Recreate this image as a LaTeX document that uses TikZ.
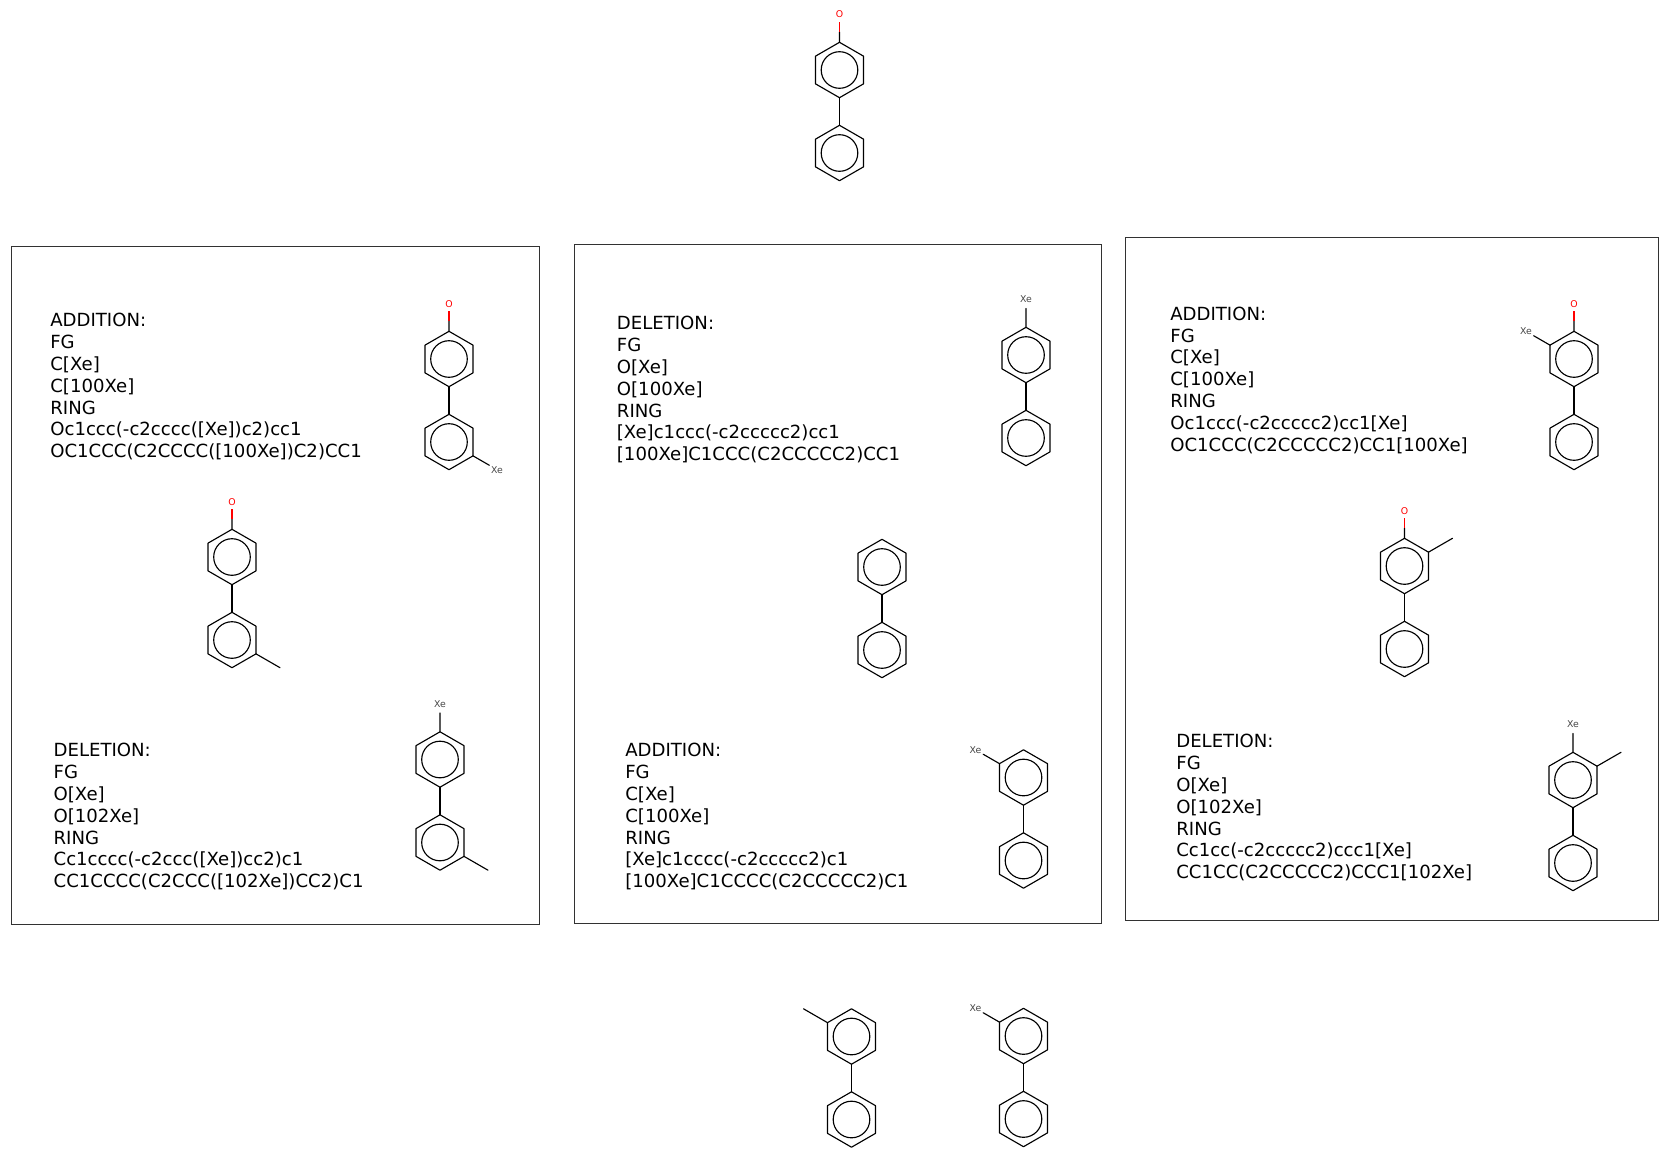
\documentclass[tikz,border=0pt]{standalone}
\usepackage{fontspec}
\setmainfont{DejaVu Sans}
\usepackage{xcolor}
\usetikzlibrary{calc}

\definecolor{oxred}{RGB}{255,0,0}
\definecolor{xegray}{RGB}{70,70,70}
\definecolor{framegray}{RGB}{50,50,50}

\tikzset{
    bond/.style={black, line width=0.68pt, line cap=round, line join=round},
    oxbond/.style={oxred, line width=0.68pt},
    panel/.style={framegray, line width=0.55pt},
    smiles/.style={anchor=west, align=left, inner sep=0pt, font=\fontsize{10.86}{13.08}\selectfont},
    olabel/.style={oxred, inner sep=0pt, font=\fontsize{5.6}{6}\selectfont},
    xelabel/.style={xegray, inner sep=0pt, font=\fontsize{5.6}{6}\selectfont},
}

% One benzene ring, centre at (0,0) of the scope
\newcommand{\benzene}{
    \draw[bond] (0,-27.7) -- (24,-13.85) -- (24,13.85) -- (0,27.7) -- (-24,13.85) -- (-24,-13.85) -- cycle;
    \draw[bond] (0,0) circle[radius=18.3];
}

% Two rings, one above the other: name, x, y of upper ring
\newcommand{\biphenyl}[3]{
    \begin{scope}[shift={(#2,#3)}]
        \benzene
        \begin{scope}[yshift=-49.8pt]
            \benzene
        \end{scope}
        \coordinate (#1top) at (0,-27.7);
        \coordinate (#1n) at (0,-55.4);
        \coordinate (#1vne) at (24,-13.85);
        \coordinate (#1ne) at (48,-27.7);
        \coordinate (#1vnw) at (-24,-13.85);
        \coordinate (#1nw) at (-48,-27.7);
        \coordinate (#1vse) at (24,96.85);
        \coordinate (#1se) at (48,110.7);
        \coordinate (#1a) at (0,27.7);
        \coordinate (#1b) at (0,55.3);
        \draw[bond] (#1a) -- (#1b);
    \end{scope}
}

% Substituents: node name, ring vertex, free end
\newcommand{\oxgroup}[3]{
    \node[olabel] (#1) at (#3) {O};
    \draw[bond] (#2) -- ($(#2)!0.37!(#3)$);
    \draw[oxbond] ($(#2)!0.37!(#3)$) -- ($(#2)!0.72!(#3)$);
}
\newcommand{\xegroup}[3]{
    \node[xelabel] (#1) at (#3) {Xe};
    \draw[bond] (#2) -- ($(#2)!0.68!(#3)$);
}

\begin{document}
\begin{tikzpicture}[x=0.6pt, y=-0.6pt]
    \useasboundingbox (0,0) rectangle (1670,1159);

    % Panels
    \draw[panel] (11.7,246) rectangle (539,924.5);
    \draw[panel] (574,244) rectangle (1101,923.5);
    \draw[panel] (1125.7,237.5) rectangle (1658,920);

    % Top molecule
    \biphenyl{top}{839.5}{70}
    \oxgroup{otop}{toptop}{topn}

    % Left panel
    \node[smiles] (addleft) at (50,386.8) {ADDITION:\\FG\\C[Xe]\\C[100Xe]\\RING\\Oc1ccc(-c2cccc([Xe])c2)cc1\\OC1CCC(C2CCCC([100Xe])C2)CC1};
    \biphenyl{la}{449}{359}
    \oxgroup{ola}{latop}{lan}
    \xegroup{xla}{lavse}{lase}

    \biphenyl{lm}{232}{557}
    \oxgroup{olm}{lmtop}{lmn}
    \draw[bond] (lmvse) -- (lmse);

    \node[smiles] (delleft) at (53.3,816.8) {DELETION:\\FG\\O[Xe]\\O[102Xe]\\RING\\Cc1cccc(-c2ccc([Xe])cc2)c1\\CC1CCCC(C2CCC([102Xe])CC2)C1};
    \biphenyl{ld}{440}{759.5}
    \xegroup{xld}{ldtop}{ldn}
    \draw[bond] (ldvse) -- (ldse);

    % Middle panel
    \node[smiles] (delmid) at (616.6,389.8) {DELETION:\\FG\\O[Xe]\\O[100Xe]\\RING\\{}[Xe]c1ccc(-c2ccccc2)cc1\\{}[100Xe]C1CCC(C2CCCCC2)CC1};
    \biphenyl{md}{1026}{355}
    \xegroup{xmd}{mdtop}{mdn}

    \biphenyl{mm}{882}{567}

    \node[smiles] (addmid) at (625,816.8) {ADDITION:\\FG\\C[Xe]\\C[100Xe]\\RING\\{}[Xe]c1cccc(-c2ccccc2)c1\\{}[100Xe]C1CCCC(C2CCCCC2)C1};
    \biphenyl{ma}{1023.5}{777.5}
    \xegroup{xma}{mavnw}{manw}

    % Right panel
    \node[smiles] (addright) at (1170,380.2) {ADDITION:\\FG\\C[Xe]\\C[100Xe]\\RING\\Oc1ccc(-c2ccccc2)cc1[Xe]\\OC1CCC(C2CCCCC2)CC1[100Xe]};
    \biphenyl{ra}{1574}{359}
    \oxgroup{ora}{ratop}{ran}
    \xegroup{xra}{ravnw}{ranw}

    \biphenyl{rm}{1404.5}{566}
    \oxgroup{orm}{rmtop}{rmn}
    \draw[bond] (rmvne) -- (rmne);

    \node[smiles] (delright) at (1176,807.8) {DELETION:\\FG\\O[Xe]\\O[102Xe]\\RING\\Cc1cc(-c2ccccc2)ccc1[Xe]\\CC1CC(C2CCCCC2)CCC1[102Xe]};
    \biphenyl{rd}{1573}{780}
    \xegroup{xrd}{rdtop}{rdn}
    \draw[bond] (rdvne) -- (rdne);

    % Bottom molecules
    \biphenyl{bl}{851.5}{1036.5}
    \draw[bond] (blvnw) -- (blnw);

    \biphenyl{br}{1023.5}{1036}
    \xegroup{xbr}{brvnw}{brnw}

\end{tikzpicture}
\end{document}
